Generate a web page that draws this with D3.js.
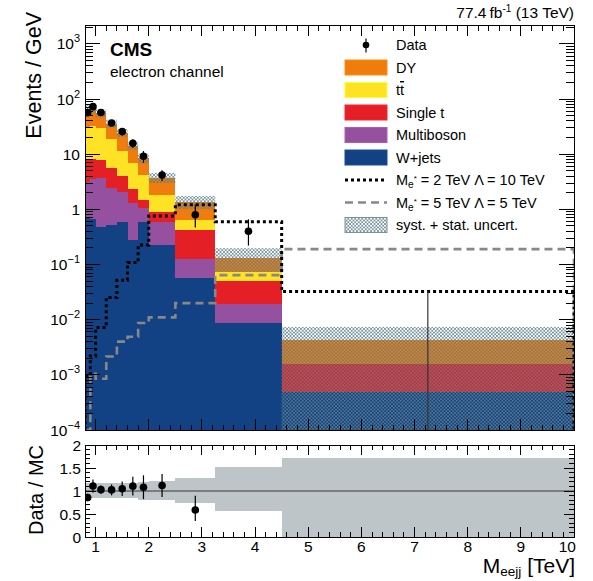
<!DOCTYPE html>
<html><head><meta charset="utf-8">
<script src="https://cdn.jsdelivr.net/npm/d3@7"></script>
<style>
body{margin:0;background:#fff}
text{font-family:"Liberation Sans",Arial,Helvetica,sans-serif;fill:#000}
</style>
</head><body>
<svg id="chart" width="593" height="581"></svg>
<script>
// Bin edges of M_eejj in TeV
const binEdges = [0.8, 0.9, 1.0, 1.2, 1.4, 1.6, 1.8, 2.0, 2.5, 3.25, 4.5, 10];

// Background expectations, events / GeV, per bin
const wjets      = [0.70, 0.66, 0.47, 0.52, 0.58, 0.28, 0.58, 0.227, 0.058, 0.00867, 0.00048];
const multiboson = [2.5, 2.94, 3.2, 1.9, 1.52, 1.02, 0.49, 0.353, 0.067, 0.0105, 0];
const singleTop  = [4.9, 4.5, 4.3, 3.1, 1.9, 1.0, 0.43, 0.33, 0.295, 0.0315, 0.00109];
const ttbar      = [22, 24, 22, 13, 7.5, 4.7, 2.7, 0.92, 0.217, 0.0231, 0];
const dy         = [36, 33.5, 25.4, 17.5, 13, 7.3, 4.3, 1.92, 0.723, 0.0552, 0.0027];

// Relative systematic + statistical uncertainty of the total background
const uncUp   = [0.17, 0.17, 0.17, 0.17, 0.17, 0.17, 0.20, 0.22, 0.28, 0.53, 0.72];
const uncDown = [0.16, 0.16, 0.16, 0.16, 0.16, 0.16, 0.20, 0.20, 0.26, 0.43, 1.00];

// Observed data, events / GeV, with error bars
const dataVals  = [56.7, 72.8, 57, 36.9, 25.7, 15.8, 9.2, 4.2, 0.80, 0.40, 0];
const dataErrLo = [5.3, 9.2, 5.0, 4.3, 3.9, 2.9, 2.2, 0.94, 0.33, 0.18, 0];
const dataErrHi = [5.3, 9.2, 5.0, 4.3, 3.9, 2.9, 2.2, 0.94, 0.42, 0.26, 0.033];

// Signal hypotheses
const sigM2L10 = [0.00096, 0.0022, 0.0072, 0.0252, 0.0521, 0.109, 0.225, 0.762, 1.21, 0.597, 0.0324];
const sigM5L5  = [0, 0.00104, 0.00085, 0.00215, 0.0040, 0.0049, 0.0087, 0.011, 0.020, 0.0643, 0.19];

// Axis ticks
const yMajor = [1e-4, 1e-3, 1e-2, 1e-1, 1, 10, 100, 1000];
const xMajor = [1, 2, 3, 4, 5, 6, 7, 8, 9, 10];
const ratioMajor = [0, 0.5, 1, 1.5, 2];
const ratioLabels = ["0", "0.5", "1", "1.5", "2"];

const keys = ["wjets", "multiboson", "singleTop", "ttbar", "dy"];
const colors = {wjets: "#124283", multiboson: "#9650a0", singleTop: "#e41f26", ttbar: "#fde226", dy: "#ef7c0c"};

const svg = d3.select("#chart");
const L = 85, R = 574, T = 25, B = 430, RT = 445, RB = 537;
const yMin = 1e-4;

const x = d3.scaleLinear().domain([0.8, 10]).range([L, R]);
const y = d3.scaleLog().domain([yMin, 2200]).range([B, T]);
const yr = d3.scaleLinear().domain([0, 2]).range([RB, RT]);
const yc = v => y(Math.max(v, yMin));

const defs = svg.append("defs");
const pat = defs.append("pattern").attr("id", "hatch").attr("patternUnits", "userSpaceOnUse")
  .attr("width", 3.5).attr("height", 3.5);
pat.append("path").attr("d", "M0,0 L3.5,3.5 M3.5,0 L0,3.5 M-1,2.5 L1,4.5 M2.5,-1 L4.5,1 M-1,1 L1,-1 M2.5,4.5 L4.5,2.5")
  .attr("stroke", "#5f7f8c").attr("stroke-width", 0.75).attr("fill", "none");
defs.append("clipPath").attr("id", "clipMain").append("rect")
  .attr("x", L).attr("y", T).attr("width", R - L).attr("height", B - T);
defs.append("clipPath").attr("id", "clipRatio").append("rect")
  .attr("x", L).attr("y", RT).attr("width", R - L).attr("height", RB - RT);

const rows = binEdges.slice(0, -1).map((lo, i) => ({
  lo, hi: binEdges[i + 1], i,
  wjets: wjets[i], multiboson: multiboson[i], singleTop: singleTop[i], ttbar: ttbar[i], dy: dy[i]
}));
rows.forEach(r => { r.total = keys.reduce((s, k) => s + r[k], 0); });

const stacked = d3.stack().keys(keys)(rows);

const main = svg.append("g").attr("clip-path", "url(#clipMain)");

// stacked backgrounds
stacked.forEach(series => {
  main.append("g").selectAll("rect").data(series.filter(d => d[1] > d[0])).join("rect")
    .attr("x", d => x(d.data.lo))
    .attr("width", d => x(d.data.hi) - x(d.data.lo))
    .attr("y", d => yc(d[1]))
    .attr("height", d => yc(d[0]) - yc(d[1]))
    .attr("fill", colors[series.key])
    .attr("shape-rendering", "crispEdges");
});

// uncertainty band
main.append("g").selectAll("rect").data(rows).join("rect")
  .attr("x", d => x(d.lo))
  .attr("width", d => x(d.hi) - x(d.lo))
  .attr("y", d => yc(d.total * (1 + uncUp[d.i])))
  .attr("height", d => yc(d.total * (1 - uncDown[d.i])) - yc(d.total * (1 + uncUp[d.i])))
  .attr("fill", "url(#hatch)");

// signal step histograms
function stepPoints(vals) {
  const pts = [[binEdges[0], yMin]];
  vals.forEach((v, i) => { pts.push([binEdges[i], v]); pts.push([binEdges[i + 1], v]); });
  pts.push([binEdges[binEdges.length - 1], yMin]);
  return pts;
}
const stepLine = d3.line().x(d => x(d[0])).y(d => yc(d[1]));
main.append("path").attr("d", stepLine(stepPoints(sigM5L5)))
  .attr("fill", "none").attr("stroke", "#888").attr("stroke-width", 2.6).attr("stroke-dasharray", "8,5");
main.append("path").attr("d", stepLine(stepPoints(sigM2L10)))
  .attr("fill", "none").attr("stroke", "#000").attr("stroke-width", 3).attr("stroke-dasharray", "3,3");

// data points
const dataRows = rows.map(r => ({
  xc: (r.lo + r.hi) / 2, v: dataVals[r.i], lo: dataErrLo[r.i], hi: dataErrHi[r.i], total: r.total
}));
main.append("g").selectAll("line").data(dataRows).join("line")
  .attr("x1", d => x(d.xc)).attr("x2", d => x(d.xc))
  .attr("y1", d => yc(d.v - d.lo)).attr("y2", d => yc(d.v + d.hi))
  .attr("stroke", d => d.v > 0 ? "#000" : "#333").attr("stroke-width", 1.2);
main.append("g").selectAll("circle").data(dataRows.filter(d => d.v > 0)).join("circle")
  .attr("cx", d => x(d.xc)).attr("cy", d => y(d.v)).attr("r", 3.8).attr("fill", "#000");

// ratio panel
const ratio = svg.append("g").attr("clip-path", "url(#clipRatio)");
ratio.append("g").selectAll("rect").data(rows).join("rect")
  .attr("x", d => x(d.lo)).attr("width", d => x(d.hi) - x(d.lo))
  .attr("y", d => yr(1 + uncUp[d.i]))
  .attr("height", d => yr(Math.max(0, 1 - uncDown[d.i])) - yr(1 + uncUp[d.i]))
  .attr("fill", "#bdc5c9").attr("shape-rendering", "crispEdges");
ratio.append("line").attr("x1", L).attr("x2", R).attr("y1", yr(1)).attr("y2", yr(1))
  .attr("stroke", "#666").attr("stroke-width", 1.5);
const ratioRows = dataRows.filter(d => d.v > 0 && d.v / d.total <= 2)
  .map(d => ({xc: d.xc, r: d.v / d.total, lo: d.lo / d.total, hi: d.hi / d.total}));
ratio.append("g").selectAll("line").data(ratioRows).join("line")
  .attr("x1", d => x(d.xc)).attr("x2", d => x(d.xc))
  .attr("y1", d => yr(d.r - d.lo)).attr("y2", d => yr(d.r + d.hi))
  .attr("stroke", "#000").attr("stroke-width", 1.2);
ratio.append("g").selectAll("circle").data(ratioRows).join("circle")
  .attr("cx", d => x(d.xc)).attr("cy", d => yr(d.r)).attr("r", 3.8).attr("fill", "#000");

// frames
[[T, B], [RT, RB]].forEach(([t, b]) => {
  svg.append("rect").attr("x", L).attr("y", t).attr("width", R - L).attr("height", b - t)
    .attr("fill", "none").attr("stroke", "#000").attr("stroke-width", 1).attr("shape-rendering", "crispEdges");
});

// ticks drawn inside on all four sides
const axG = svg.append("g").attr("stroke", "#000").attr("stroke-width", 1).attr("shape-rendering", "crispEdges");
function hTicks(vals, y0, len) {
  vals.forEach(v => axG.append("line").attr("x1", x(v)).attr("x2", x(v)).attr("y1", y0).attr("y2", y0 + len));
}
function vTicks(vals, scale, len) {
  vals.forEach(v => {
    axG.append("line").attr("x1", L).attr("x2", L + len).attr("y1", scale(v)).attr("y2", scale(v));
    axG.append("line").attr("x1", R).attr("x2", R - len).attr("y1", scale(v)).attr("y2", scale(v));
  });
}
const xMinor = d3.range(8, 101, 2).map(v => v / 10).filter(v => v > 0.8 && v < 10 && Math.abs(v - Math.round(v)) > 1e-6);
hTicks(xMajor, B, -11); hTicks(xMinor, B, -5.5);
hTicks(xMajor, T, 11); hTicks(xMinor, T, 5.5);
hTicks(xMajor, RB, -10); hTicks(xMinor, RB, -5);
hTicks(xMajor, RT, 10); hTicks(xMinor, RT, 5);

const yMinor = [];
yMajor.forEach(m => { for (let k = 2; k <= 9; k++) if (m * k < 2200) yMinor.push(m * k); });
vTicks(yMajor, y, 15); vTicks(yMinor, y, 8);
const rMinor = d3.range(1, 20).map(v => v / 10).filter(v => Math.abs(v * 2 - Math.round(v * 2)) > 1e-6);
vTicks(ratioMajor, yr, 10.5); vTicks(rMinor, yr, 5);

// tick labels
const fs = 15.5;
yMajor.forEach(v => {
  const e = Math.round(Math.log10(v));
  const t = svg.append("text").attr("x", 80).attr("y", y(v) + 5.5).attr("text-anchor", "end").attr("font-size", fs);
  if (e === 0) t.text("1");
  else if (e === 1) t.text("10");
  else {
    t.append("tspan").text("10");
    t.append("tspan").attr("font-size", 11).attr("dy", -7).text(e < 0 ? "\u2212" + (-e) : e);
  }
});
ratioMajor.forEach((v, i) => {
  svg.append("text").attr("x", 81).attr("y", yr(v) + 5.5).attr("text-anchor", "end").attr("font-size", fs).text(ratioLabels[i]);
});
xMajor.forEach((v, i) => {
  const last = i === xMajor.length - 1;
  svg.append("text").attr("x", last ? x(v) + 2 : x(v)).attr("y", 552).attr("text-anchor", last ? "end" : "middle")
    .attr("font-size", fs).text(v);
});

// axis titles
svg.append("text").attr("transform", "translate(41,12) rotate(-90)").attr("text-anchor", "end")
  .attr("font-size", 21.5).text("Events / GeV");
svg.append("text").attr("transform", "translate(42.5,445) rotate(-90)").attr("text-anchor", "end")
  .attr("font-size", 20).text("Data / MC");
const xt = svg.append("text").attr("x", 575).attr("y", 573).attr("text-anchor", "end").attr("font-size", 21);
xt.append("tspan").text("M");
xt.append("tspan").attr("font-size", 13.5).attr("dy", 3).text("eejj");
xt.append("tspan").attr("dy", -3).text(" [TeV]");

// header texts
svg.append("text").attr("x", 110).attr("y", 56).attr("font-size", 19).attr("font-weight", "bold").text("CMS");
svg.append("text").attr("x", 110).attr("y", 77).attr("font-size", 15.5).text("electron channel");
const lumi = svg.append("text").attr("x", 574).attr("y", 18).attr("text-anchor", "end").attr("font-size", 15.5);
lumi.append("tspan").text("77.4\u2009fb");
lumi.append("tspan").attr("font-size", 10).attr("dy", -6).text("-1");
lumi.append("tspan").attr("dy", 6).text(" (13 TeV)");

// legend
const lg = svg.append("g");
const lx0 = 345, lx1 = 387, ltx = 396, ly0 = 45, ldy = 22.5, lfs = 14.5;
const row = i => ly0 + i * ldy;
// data
lg.append("line").attr("x1", 366).attr("x2", 366).attr("y1", row(0) - 6.5).attr("y2", row(0) + 7.5).attr("stroke", "#000").attr("stroke-width", 1.2);
lg.append("circle").attr("cx", 366).attr("cy", row(0)).attr("r", 3.3).attr("fill", "#000");
lg.append("text").attr("x", ltx).attr("y", row(0) + 5).attr("font-size", lfs).text("Data");
// backgrounds
const legendKeys = ["dy", "ttbar", "singleTop", "multiboson", "wjets"];
const legendNames = ["DY", "tt", "Single t", "Multiboson", "W+jets"];
legendKeys.forEach((k, j) => {
  const cy = row(j + 1);
  lg.append("rect").attr("x", lx0).attr("y", cy - 7.5).attr("width", lx1 - lx0).attr("height", 15)
    .attr("fill", colors[k]).attr("stroke", d3.color(colors[k]).brighter(0.4)).attr("stroke-width", 1);
  const t = lg.append("text").attr("x", ltx).attr("y", cy + 5).attr("font-size", lfs);
  if (k === "ttbar") {
    t.append("tspan").text("t");
    t.append("tspan").attr("text-decoration", "overline").text("t");
  } else t.text(legendNames[j]);
});
// signals
function sigLabel(cy, mass, lam) {
  const t = lg.append("text").attr("x", ltx).attr("y", cy + 5).attr("font-size", lfs);
  t.append("tspan").text("M");
  t.append("tspan").attr("font-size", 10).attr("dy", 3).text("e");
  t.append("tspan").attr("font-size", 8).attr("dy", -7).text("*");
  t.append("tspan").attr("dy", 4).text(` = ${mass} TeV \u039B = ${lam} TeV`);
}
lg.append("line").attr("x1", lx0).attr("x2", lx1).attr("y1", row(6)).attr("y2", row(6))
  .attr("stroke", "#000").attr("stroke-width", 3).attr("stroke-dasharray", "3,3");
sigLabel(row(6), 2, 10);
lg.append("line").attr("x1", lx0).attr("x2", lx1).attr("y1", row(7)).attr("y2", row(7))
  .attr("stroke", "#888").attr("stroke-width", 2.6).attr("stroke-dasharray", "8,5");
sigLabel(row(7), 5, 5);
// uncertainty
lg.append("rect").attr("x", lx0).attr("y", row(8) - 7.5).attr("width", lx1 - lx0).attr("height", 15)
  .attr("fill", "url(#hatch)").attr("stroke", "#7d949e").attr("stroke-width", 1);
lg.append("text").attr("x", ltx).attr("y", row(8) + 5).attr("font-size", lfs).text("syst. + stat. uncert.");
</script>
</body></html>
